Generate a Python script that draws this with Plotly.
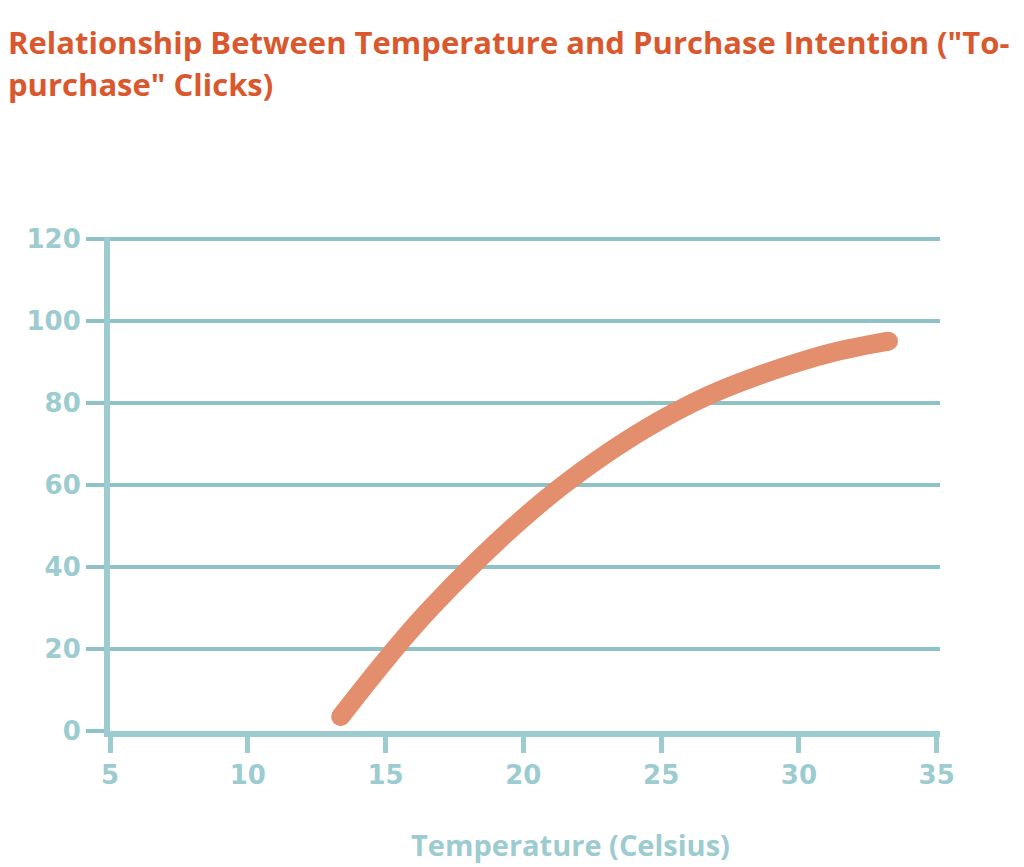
import plotly.graph_objects as go

# Data
temperature = [13.37, 16.67, 21.45, 26.14, 30.66, 33.25]
clicks = [3.5, 30.2, 60, 80, 91.3, 95.1]

x_ticks = [5, 10, 15, 20, 25, 30, 35]
y_ticks = [0, 20, 40, 60, 80, 100, 120]

title_lines = ['Relationship Between Temperature and Purchase Intention ("To-',
               'purchase" Clicks)']
x_title = "Temperature (Celsius)"

TEAL = "#9ccbd0"
GRID = "#8fc2c7"
ORANGE = "#e38f6d"
TITLE_C = "#d9582e"
FONT = "Open Sans"
TICK_FONT = "DejaVu Sans"

# page body has an 8px margin; figure is sized to fit the 1024x867 window
W, H = 1016, 859
L, R, T, B = 102, 84, 229, 136
PW, PH = W - L - R, H - T - B


def px_to_paper(px, py):
    return (px - L) / PW, (H - B - py) / PH


n = len(temperature)
marker_sizes = [19 if i in (0, n - 1) else 0 for i in range(n)]

fig = go.Figure()
fig.add_trace(go.Scatter(
    x=temperature, y=clicks,
    mode="lines+markers",
    line=dict(color=ORANGE, width=19, shape="spline", smoothing=1.0),
    marker=dict(color=ORANGE, size=marker_sizes, opacity=1, line=dict(width=0)),
    hoverinfo="skip",
    showlegend=False,
))

annotations = []
for i, (line_text, cy) in enumerate(zip(title_lines, [34, 76])):
    ax, ay = px_to_paper(-2, cy)
    annotations.append(dict(
        text=line_text, xref="paper", yref="paper", x=ax, y=ay,
        xanchor="left", yanchor="middle", showarrow=False,
        font=dict(family=FONT, size=31, color=TITLE_C, weight="bold"),
    ))
tx, ty = px_to_paper(562, 836)
annotations.append(dict(
    text=x_title, xref="paper", yref="paper",
    x=tx, y=ty, xanchor="center", yanchor="middle",
    showarrow=False,
    font=dict(family=FONT, size=29, color=TEAL, weight="bold"),
))

fig.update_layout(
    width=W, height=H,
    margin=dict(l=L, r=R, t=T, b=B),
    paper_bgcolor="white", plot_bgcolor="white",
    font=dict(family=FONT, color=TEAL),
    xaxis=dict(
        range=[5, 35.12], tickvals=x_ticks, ticktext=[str(v) for v in x_ticks],
        showgrid=False, zeroline=False,
        showline=True, linecolor=TEAL, linewidth=6,
        ticks="outside", ticklen=16, tickwidth=5, tickcolor=TEAL,
        tickfont=dict(family=TICK_FONT, size=26, color=TEAL, weight="bold"),
    ),
    yaxis=dict(
        range=[0, 120.5], tickvals=y_ticks, ticktext=[str(v) for v in y_ticks],
        showgrid=True, gridcolor=GRID, gridwidth=4,
        zeroline=False,
        showline=True, linecolor=TEAL, linewidth=6,
        ticks="outside", ticklen=18, tickwidth=4, tickcolor=GRID,
        tickfont=dict(family=TICK_FONT, size=26, color=TEAL, weight="bold"),
    ),
    annotations=annotations,
)

fig.write_html("out.html")
